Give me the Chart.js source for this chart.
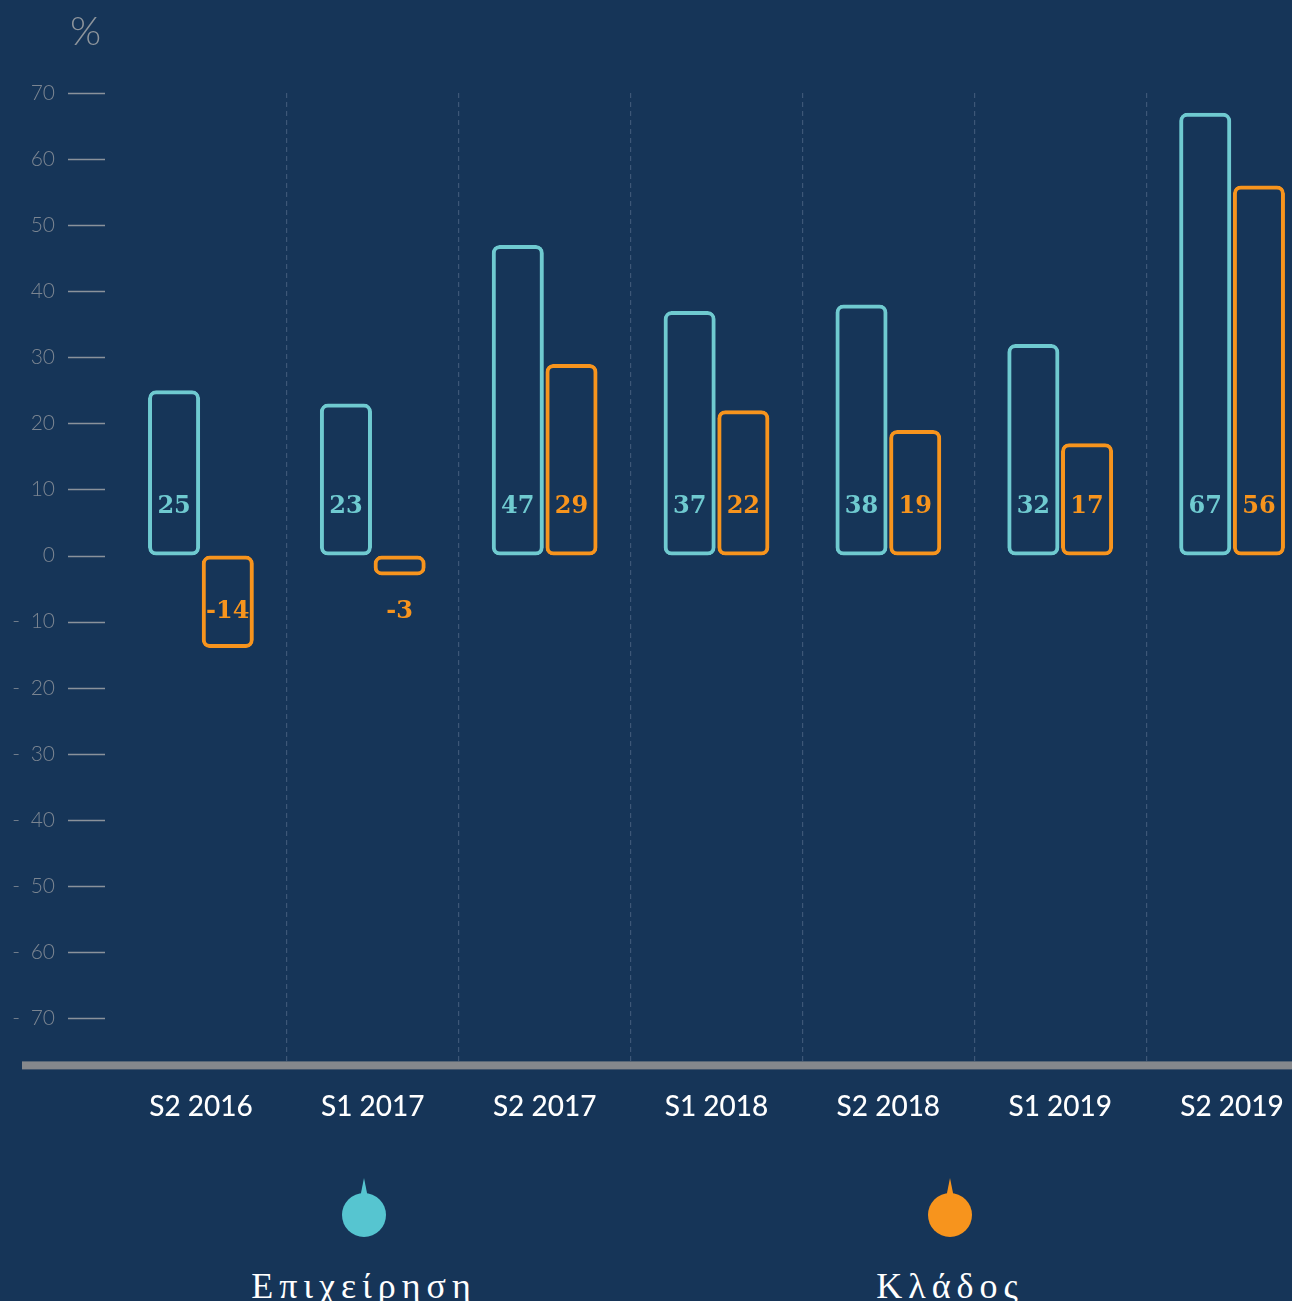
<!DOCTYPE html>
<html>
<head>
<meta charset="utf-8">
<script src="https://cdn.jsdelivr.net/npm/chart.js@4"></script>
<style>
  html, body { margin: 0; padding: 0; }
  body { width: 1292px; height: 1301px; overflow: hidden; background: #163558; position: relative; }
  #wrap { position: absolute; left: 0; top: 0; width: 1318px; height: 1137px; }
  #pct { position: absolute; left: 70px; top: 6px; font: 300 40px Lato, sans-serif; color: #8e959c; }
  .leg { position: absolute; top: 1178px; width: 300px; text-align: center; }
  .dot { position: relative; width: 44px; height: 44px; border-radius: 50%; margin: 15px auto 0; }
  .dot:before { content: ""; position: absolute; left: 18px; top: -15px; border-left: 4px solid transparent; border-right: 4px solid transparent; border-bottom: 20px solid; border-bottom-color: inherit; }
  .leg span { display: block; margin-top: 28px; font: 36px "Liberation Serif", serif; letter-spacing: 6px; color: #fff; }
</style>
</head>
<body>
<div id="wrap"><canvas id="chart"></canvas></div>
<div id="pct">%</div>
<div id="legend"></div>
<script>
// Dane wykresu
const categories = ["S2 2016", "S1 2017", "S2 2017", "S1 2018", "S2 2018", "S1 2019", "S2 2019"];
const seriesNames = ["Επιχείρηση", "Κλάδος"];
const companyValues = [25, 23, 47, 37, 38, 32, 67];
const sectorValues = [-14, -3, 29, 22, 19, 17, 56];
const yTicks = [70, 60, 50, 40, 30, 20, 10, 0, -10, -20, -30, -40, -50, -60, -70];
const barColors = ["#6fcad0", "#f7941d"];
const dotColors = ["#56c5d0", "#f7941d"];
const legendX = [364, 950];

// Kreski przy etykietach osi Y + gruba linia osi X + wartości w słupkach
const extras = {
  id: "extras",
  afterDraw(chart) {
    const ctx = chart.ctx;
    const y = chart.scales.y;
    const area = chart.chartArea;
    ctx.save();
    ctx.strokeStyle = "#8a929b";
    ctx.lineWidth = 1.3;
    y.ticks.forEach(t => {
      const py = Math.round(y.getPixelForValue(t.value)) + 0.5;
      ctx.beginPath();
      ctx.moveTo(68, py);
      ctx.lineTo(105, py);
      ctx.stroke();
    });
    // os X
    ctx.fillStyle = "#85888c";
    ctx.fillRect(22, area.bottom - 3, chart.width, 8);

    // wartosci
    const zero = y.getPixelForValue(0);
    ctx.font = "bold 24px 'DejaVu Serif', serif";
    ctx.textAlign = "center";
    ctx.textBaseline = "middle";
    chart.data.datasets.forEach((ds, i) => {
      const meta = chart.getDatasetMeta(i);
      ctx.fillStyle = ds.borderColor;
      meta.data.forEach((bar, j) => {
        const v = ds.data[j];
        const py = v >= 0 ? zero - 49 : zero + 56;
        ctx.fillText(String(v), bar.x, py);
      });
    });
    ctx.restore();
  }
};

const chart = new Chart(document.getElementById("chart"), {
  type: "bar",
  data: {
    labels: categories,
    datasets: [
      { label: seriesNames[0], data: companyValues, borderColor: barColors[0] },
      { label: seriesNames[1], data: sectorValues, borderColor: barColors[1] }
    ].map(d => Object.assign(d, {
      backgroundColor: "rgba(0,0,0,0)",
      borderWidth: 4,
      borderRadius: 8,
      borderSkipped: false,
      categoryPercentage: 0.625,
      barPercentage: 0.97
    }))
  },
  options: {
    responsive: true,
    maintainAspectRatio: false,
    animation: false,
    layout: { padding: { top: 93, right: 0, bottom: 0, left: 0 } },
    plugins: { legend: { display: false }, tooltip: { enabled: false } },
    scales: {
      x: {
        grid: {
          drawTicks: false,
          color: c => c.index === 0 ? "rgba(0,0,0,0)" : "#3d5777",
          lineWidth: 1.2
        },
        border: { display: false, dash: [5, 4] },
        ticks: { color: "#ffffff", padding: 26, font: { family: "Lato, sans-serif", size: 28, weight: "500" } },
        afterFit(s) { s.height = 67; }
      },
      y: {
        min: -77,
        max: 70,
        grid: { display: false, drawTicks: false },
        border: { display: false },
        afterBuildTicks(s) { s.ticks = yTicks.map(v => ({ value: v })); },
        afterFit(s) { s.width = 115; },
        ticks: {
          padding: 60,
          color: "#7b8591",
          font: { family: "Lato, sans-serif", size: 21, weight: "300" },
          callback: v => v < 0 ? "-\u2002" + Math.abs(v) : String(v)
        }
      }
    }
  },
  plugins: [extras]
});

// Legenda
const legend = document.getElementById("legend");
seriesNames.forEach((name, i) => {
  const el = document.createElement("div");
  el.className = "leg";
  el.style.left = (legendX[i] - 150) + "px";
  el.innerHTML = `<div class="dot" style="background:${dotColors[i]};border-color:${dotColors[i]}"></div><span>${name}</span>`;
  legend.appendChild(el);
});
</script>
</body>
</html>
